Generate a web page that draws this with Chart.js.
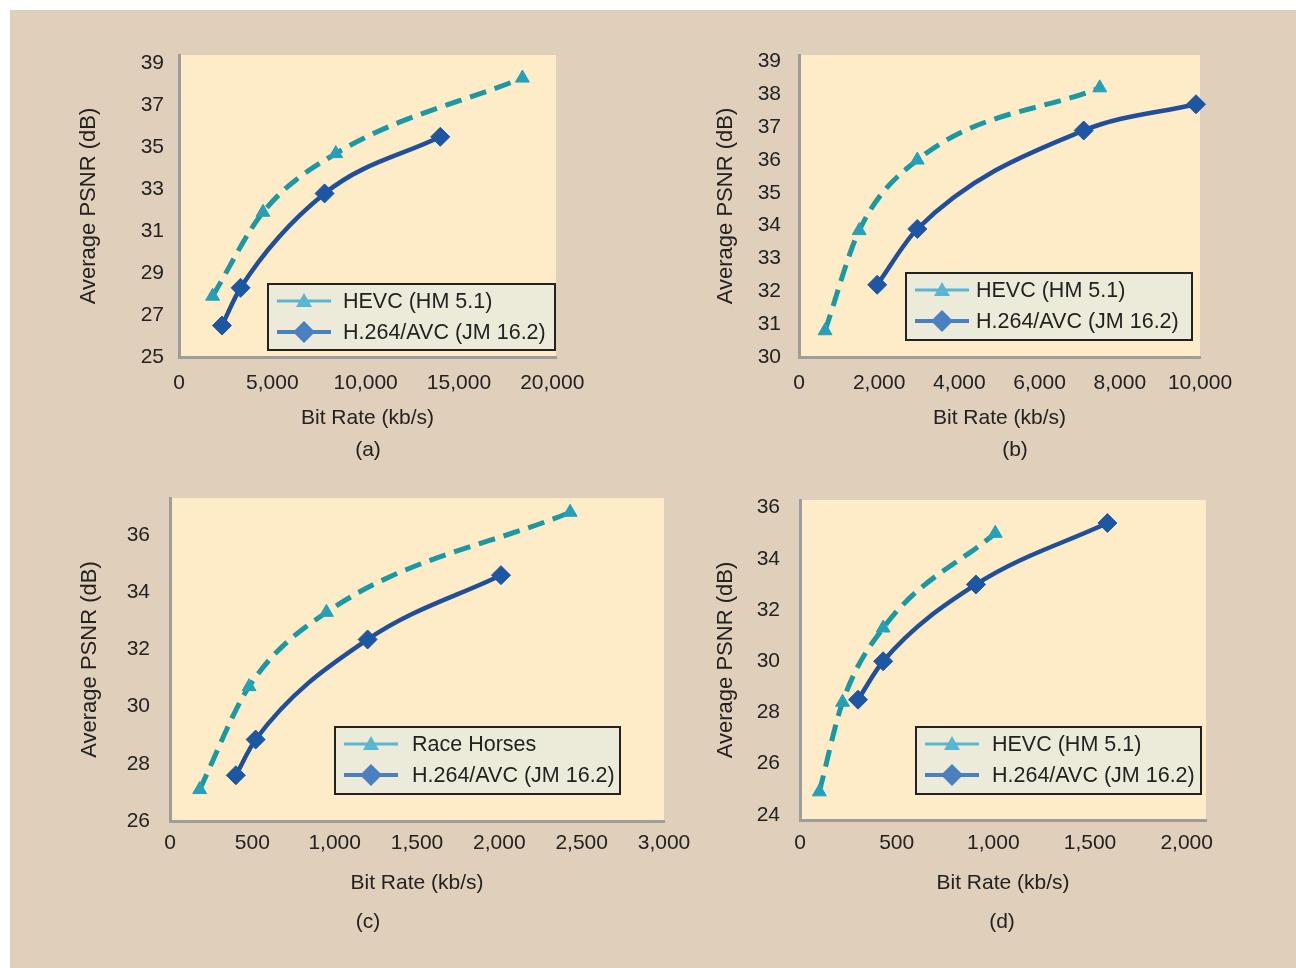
<!DOCTYPE html>
<html>
<head>
<meta charset="utf-8">
<title>HEVC vs H.264/AVC rate-distortion curves</title>
<script src="https://cdn.jsdelivr.net/npm/chart.js@4.4.1/dist/chart.umd.min.js"></script>
<style>
  html, body { margin: 0; padding: 0; background: #ffffff; }
  #frame { position: absolute; left: 10px; top: 10px; width: 1286px; height: 958px; background: #e0cfba; }
  canvas { position: absolute; }
  .panelTag {
    position: absolute;
    font: 21px "Liberation Sans", Arial, sans-serif;
    color: #222;
    transform: translate(-50%, -50%);
  }
</style>
</head>
<body>
<div id="frame"></div>
<canvas id="chartA" width="640" height="460" style="left:10px;top:10px"></canvas>
<canvas id="chartB" width="646" height="460" style="left:650px;top:10px"></canvas>
<canvas id="chartC" width="690" height="498" style="left:10px;top:470px"></canvas>
<canvas id="chartD" width="596" height="498" style="left:700px;top:470px"></canvas>
<div class="panelTag" style="left:368px;top:449px">(a)</div>
<div class="panelTag" style="left:1015px;top:449px">(b)</div>
<div class="panelTag" style="left:368px;top:921px">(c)</div>
<div class="panelTag" style="left:1002px;top:921px">(d)</div>

<script>
// ---- data ----
const hevcLabel = "HEVC (HM 5.1)";
const avcLabel = "H.264/AVC (JM 16.2)";
const raceHorsesLabel = "Race Horses";
const xTitle = "Bit Rate (kb/s)";
const yTitle = "Average PSNR (dB)";

// (a)
const rateA_hevc = [1800, 4500, 8400, 18400];
const psnrA_hevc = [27.9, 31.9, 34.7, 38.3];
const rateA_avc = [2300, 3300, 7800, 14000];
const psnrA_avc = [26.5, 28.3, 32.8, 35.5];
const xTicksA = [0, 5000, 10000, 15000, 20000];
const yTicksA = [25, 27, 29, 31, 33, 35, 37, 39];

// (b)
const rateB_hevc = [650, 1500, 2950, 7500];
const psnrB_hevc = [30.8, 33.85, 36.0, 38.2];
const rateB_avc = [1950, 2950, 7100, 9900];
const psnrB_avc = [32.2, 33.9, 36.9, 37.7];
const xTicksB = [0, 2000, 4000, 6000, 8000, 10000];
const yTicksB = [30, 31, 32, 33, 34, 35, 36, 37, 38, 39];

// (c)
const rateC_hevc = [180, 480, 950, 2430];
const psnrC_hevc = [27.1, 30.7, 33.3, 36.8];
const rateC_avc = [400, 520, 1200, 2010];
const psnrC_avc = [27.6, 28.85, 32.35, 34.6];
const xTicksC = [0, 500, 1000, 1500, 2000, 2500, 3000];
const yTicksC = [26, 28, 30, 32, 34, 36];

// (d)
const rateD_hevc = [100, 220, 430, 1010];
const psnrD_hevc = [24.9, 28.4, 31.3, 35.0];
const rateD_avc = [300, 430, 910, 1590];
const psnrD_avc = [28.5, 30.0, 33.0, 35.4];
const xTicksD = [0, 500, 1000, 1500, 2000];
const yTicksD = [24, 26, 28, 30, 32, 34, 36];

const FONT = '"Liberation Sans", Arial, sans-serif';
const TEXT = "#222";

// fill the plot area with the pale yellow
const plotBackground = {
  id: "plotBackground",
  beforeDraw(chart) {
    const { ctx, chartArea } = chart;
    ctx.save();
    ctx.fillStyle = "#fdecc7";
    ctx.fillRect(chartArea.left, chartArea.top, chartArea.right - chartArea.left, chartArea.bottom - chartArea.top);
    ctx.restore();
  },
};

// boxed legend sitting inside the plot, lower right
const boxLegend = {
  id: "boxLegend",
  afterDraw(chart, args, opts) {
    const { ctx, chartArea } = chart;
    const right = chartArea.right - opts.offsetRight;
    const bottom = chartArea.bottom - opts.offsetBottom;
    const left = right - opts.width;
    const top = bottom - opts.height;

    ctx.save();
    ctx.fillStyle = "#ecebda";
    ctx.fillRect(left, top, opts.width, opts.height);
    ctx.lineWidth = 2;
    ctx.strokeStyle = "#222";
    ctx.strokeRect(left, top, opts.width, opts.height);

    chart.data.datasets.forEach((ds, i) => {
      const y = top + 17 + i * 31;
      const x0 = left + 9;
      const x1 = left + 63;
      const xm = (x0 + x1) / 2;

      ctx.setLineDash([]);
      ctx.strokeStyle = ds.legendColor;
      ctx.lineWidth = ds.legendLineWidth;
      ctx.beginPath();
      ctx.moveTo(x0, y);
      ctx.lineTo(x1, y);
      ctx.stroke();

      ctx.fillStyle = ds.legendColor;
      ctx.beginPath();
      if (ds.pointStyle === "triangle") {
        ctx.moveTo(xm, y - 8);
        ctx.lineTo(xm + 8, y + 6);
        ctx.lineTo(xm - 8, y + 6);
      } else {
        ctx.moveTo(xm, y - 11);
        ctx.lineTo(xm + 11, y);
        ctx.lineTo(xm, y + 11);
        ctx.lineTo(xm - 11, y);
      }
      ctx.closePath();
      ctx.fill();

      ctx.fillStyle = TEXT;
      ctx.font = "21.5px " + FONT;
      ctx.textBaseline = "middle";
      ctx.fillText(ds.label, left + opts.textLeft, y + 1);
    });
    ctx.restore();
  },
};

function toPoints(xs, ys) {
  return xs.map((x, i) => ({ x: x, y: ys[i] }));
}

function buildPanel(canvasId, p) {
  return new Chart(document.getElementById(canvasId), {
    type: "line",
    data: {
      datasets: [
        {
          label: p.hevcName,
          data: toPoints(p.hevcRate, p.hevcPsnr),
          borderColor: "#1a98a3",
          borderWidth: 5,
          borderDash: [17, 9],
          pointStyle: "triangle",
          pointRadius: 8,
          pointBackgroundColor: "#26a0b9",
          pointBorderColor: "#26a0b9",
          pointBorderWidth: 1,
          cubicInterpolationMode: "monotone",
          fill: false,
          clip: false,
          legendColor: "#5ab6d0",
          legendLineWidth: 3,
        },
        {
          label: avcLabel,
          data: toPoints(p.avcRate, p.avcPsnr),
          borderColor: "#1f4f9c",
          borderWidth: 4.5,
          pointStyle: "rectRot",
          pointRadius: 9.5,
          pointBackgroundColor: "#1d56a3",
          pointBorderColor: "#1d56a3",
          pointBorderWidth: 1,
          cubicInterpolationMode: "monotone",
          fill: false,
          clip: false,
          legendColor: "#4a7fc1",
          legendLineWidth: 4,
        },
      ],
    },
    options: {
      responsive: false,
      animation: false,
      events: [],
      layout: { padding: { top: p.padTop, right: p.padRight, left: 0, bottom: 0 } },
      scales: {
        x: {
          type: "linear",
          min: p.xMin,
          max: p.xMax,
          afterBuildTicks: (axis) => {
            axis.ticks = p.xTicks.map((v) => ({ value: v }));
          },
          afterFit: (scale) => {
            scale.height = p.xHeight;
          },
          grid: { display: false },
          border: { display: true, color: "#9d9d9d", width: 3 },
          ticks: {
            autoSkip: false,
            maxRotation: 0,
            padding: p.xTickPad,
            color: TEXT,
            font: { family: FONT, size: 21 },
            callback: (v) => v.toLocaleString("en-US"),
          },
          title: {
            display: true,
            text: xTitle,
            color: TEXT,
            font: { family: FONT, size: 21 },
            padding: { top: 0, bottom: p.xTitlePad },
          },
        },
        y: {
          type: "linear",
          min: p.yMin,
          max: p.yMax,
          afterBuildTicks: (axis) => {
            axis.ticks = p.yTicks.map((v) => ({ value: v }));
          },
          afterFit: (scale) => {
            scale.width = p.yWidth;
          },
          grid: { display: false },
          border: { display: true, color: "#9d9d9d", width: 3 },
          ticks: {
            autoSkip: false,
            padding: p.yTickPad,
            color: TEXT,
            font: { family: FONT, size: 21 },
          },
          title: {
            display: true,
            text: yTitle,
            color: TEXT,
            font: { family: FONT, size: 22 },
            padding: { top: p.yTitlePad, bottom: 0 },
          },
        },
      },
      plugins: {
        legend: { display: false },
        tooltip: { enabled: false },
        boxLegend: p.legend,
      },
    },
    plugins: [plotBackground, boxLegend],
  });
}

buildPanel("chartA", {
  hevcName: hevcLabel,
  hevcRate: rateA_hevc, hevcPsnr: psnrA_hevc,
  avcRate: rateA_avc, avcPsnr: psnrA_avc,
  xMin: 0, xMax: 20200, xTicks: xTicksA,
  yMin: 25, yMax: 39.4, yTicks: yTicksA,
  padTop: 45, padRight: 94, yWidth: 169, xHeight: 113,
  xTickPad: 6, yTickPad: 7, xTitlePad: 39, yTitlePad: 66,
  legend: { offsetRight: 1, offsetBottom: 7, width: 287, height: 66, textLeft: 75 },
});

buildPanel("chartB", {
  hevcName: hevcLabel,
  hevcRate: rateB_hevc, hevcPsnr: psnrB_hevc,
  avcRate: rateB_avc, avcPsnr: psnrB_avc,
  xMin: 0, xMax: 10000, xTicks: xTicksB,
  yMin: 30, yMax: 39.2, yTicks: yTicksB,
  padTop: 45, padRight: 96, yWidth: 149, xHeight: 113,
  xTickPad: 6, yTickPad: 10, xTitlePad: 39, yTitlePad: 63,
  legend: { offsetRight: 8, offsetBottom: 17, width: 286, height: 67, textLeft: 70 },
});

buildPanel("chartC", {
  hevcName: raceHorsesLabel,
  hevcRate: rateC_hevc, hevcPsnr: psnrC_hevc,
  avcRate: rateC_avc, avcPsnr: psnrC_avc,
  xMin: 0, xMax: 3000, xTicks: xTicksC,
  yMin: 26, yMax: 37.3, yTicks: yTicksC,
  padTop: 28, padRight: 36, yWidth: 160, xHeight: 147,
  xTickPad: 2, yTickPad: 12, xTitlePad: 72, yTitlePad: 67,
  legend: { offsetRight: 44, offsetBottom: 27, width: 285, height: 67, textLeft: 77 },
});

buildPanel("chartD", {
  hevcName: hevcLabel,
  hevcRate: rateD_hevc, hevcPsnr: psnrD_hevc,
  avcRate: rateD_avc, avcPsnr: psnrD_avc,
  xMin: 0, xMax: 2100, xTicks: xTicksD,
  yMin: 23.8, yMax: 36.3, yTicks: yTicksD,
  padTop: 30, padRight: 90, yWidth: 100, xHeight: 148,
  xTickPad: 3, yTickPad: 12, xTitlePad: 72, yTitlePad: 13,
  legend: { offsetRight: 5, offsetBottom: 26, width: 285, height: 67, textLeft: 76 },
});
</script>
</body>
</html>
